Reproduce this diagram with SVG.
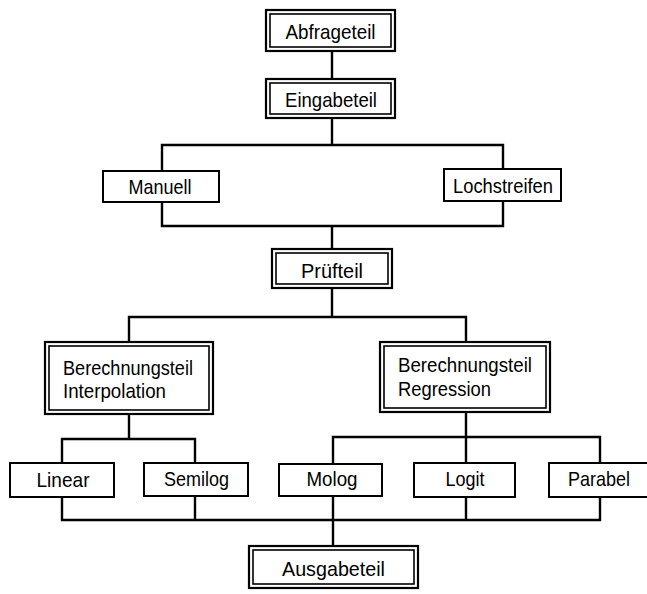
<svg xmlns="http://www.w3.org/2000/svg" width="647" height="594" viewBox="0 0 647 594">
<style>
.o{fill:#fff;stroke:#000;stroke-width:2.2}
.i{fill:none;stroke:#000;stroke-width:1.6}
.b{fill:#fff;stroke:#000;stroke-width:2}
.t{font-family:"Liberation Sans",Arial,sans-serif;font-size:21px;fill:#000}
.m{text-anchor:middle}
.c path{fill:none;stroke:#000;stroke-width:2.4;stroke-linecap:square}
</style>
<rect width="647" height="594" fill="#fff"/>
<g class="c" id="connectors">
<path d="M332 51V79M332 118V145M162 145H503M162 145V171M503 145V169M162 202V226M503 201V226M162 226H503M332 226V249M332 288V317M129 317H466M129 317V342M466 317V342"/>
<path d="M129 414V439M62 439H195M62 439V463M195 439V463M466 412V437M333 437H600M333 437V464M466 437V463M600 437V463"/>
<path d="M62 497V520M195 496V520M333 496V546M466 497V520M600 497V520M62 520H600"/>
</g>
<g id="abfrageteil">
<rect class="o" x="266" y="10" width="129" height="41"/>
<rect class="i" x="270" y="14" width="121" height="33"/>
<text class="t m" x="330.5" y="39" textLength="90" lengthAdjust="spacingAndGlyphs">Abfrageteil</text>
</g>
<g id="eingabeteil">
<rect class="o" x="266" y="79" width="129" height="39"/>
<rect class="i" x="270" y="83" width="121" height="31"/>
<text class="t m" x="331" y="106.5" textLength="92" lengthAdjust="spacingAndGlyphs">Eingabeteil</text>
</g>
<g id="manuell">
<rect class="b" x="103" y="171" width="116" height="31"/>
<text class="t m" x="160" y="194" textLength="63" lengthAdjust="spacingAndGlyphs">Manuell</text>
</g>
<g id="lochstreifen">
<rect class="b" x="444" y="169" width="117" height="32"/>
<text class="t m" x="503" y="192.5" textLength="100" lengthAdjust="spacingAndGlyphs">Lochstreifen</text>
</g>
<g id="pruefteil">
<rect class="o" x="272" y="249" width="120" height="39"/>
<rect class="i" x="276" y="253" width="112" height="31"/>
<text class="t m" x="332" y="277.5" textLength="62" lengthAdjust="spacingAndGlyphs">Prüfteil</text>
</g>
<g id="interpolation">
<rect class="o" x="45" y="342" width="168" height="72"/>
<rect class="i" x="49" y="346" width="160" height="64"/>
<text class="t" x="63" y="374.5" textLength="130" lengthAdjust="spacingAndGlyphs">Berechnungsteil</text>
<text class="t" x="63" y="397.5" textLength="103" lengthAdjust="spacingAndGlyphs">Interpolation</text>
</g>
<g id="regression">
<rect class="o" x="380" y="342" width="170" height="70"/>
<rect class="i" x="384" y="346" width="162" height="62"/>
<text class="t" x="398" y="372" textLength="134" lengthAdjust="spacingAndGlyphs">Berechnungsteil</text>
<text class="t" x="398" y="396" textLength="93" lengthAdjust="spacingAndGlyphs">Regression</text>
</g>
<g id="linear">
<rect class="b" x="10" y="463" width="104" height="34"/>
<text class="t m" x="63" y="486.5" textLength="53" lengthAdjust="spacingAndGlyphs">Linear</text>
</g>
<g id="semilog">
<rect class="b" x="144" y="463" width="104" height="33"/>
<text class="t m" x="196.5" y="486" textLength="65" lengthAdjust="spacingAndGlyphs">Semilog</text>
</g>
<g id="molog">
<rect class="b" x="279" y="464" width="103" height="32"/>
<text class="t m" x="332" y="485.5" textLength="51" lengthAdjust="spacingAndGlyphs">Molog</text>
</g>
<g id="logit">
<rect class="b" x="414" y="463" width="101" height="34"/>
<text class="t m" x="465" y="485.5" textLength="39" lengthAdjust="spacingAndGlyphs">Logit</text>
</g>
<g id="parabel">
<rect class="b" x="549" y="463" width="102" height="34"/>
<text class="t m" x="599" y="485.5" textLength="62" lengthAdjust="spacingAndGlyphs">Parabel</text>
</g>
<g id="ausgabeteil">
<rect class="o" x="249" y="546" width="169" height="42"/>
<rect class="i" x="253" y="550" width="161" height="34"/>
<text class="t m" x="333.5" y="576" textLength="103" lengthAdjust="spacingAndGlyphs">Ausgabeteil</text>
</g>
</svg>
